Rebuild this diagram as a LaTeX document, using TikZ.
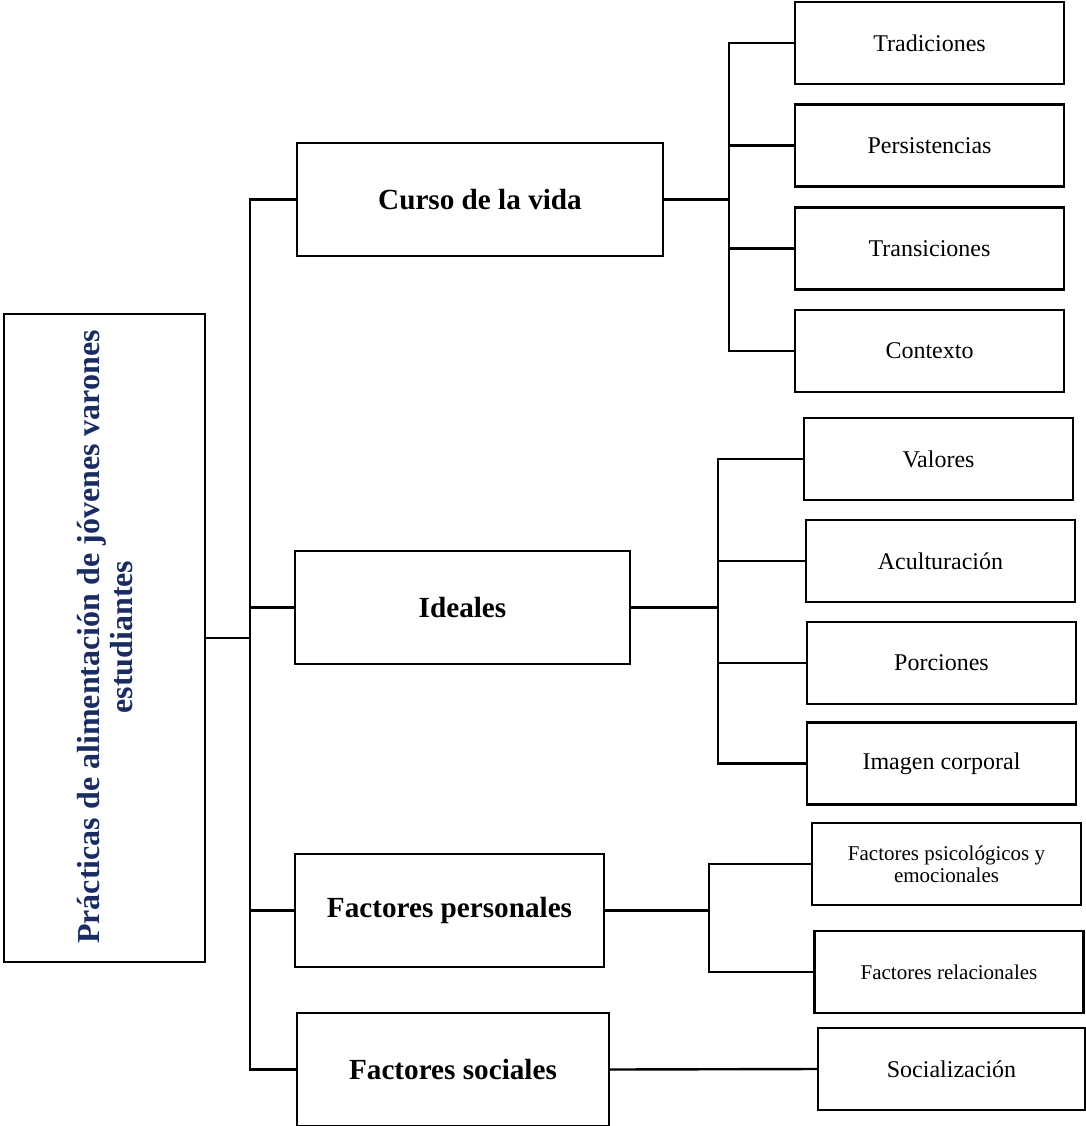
\documentclass[tikz,border=0pt]{standalone}
\usepackage{fontspec}
\setmainfont{Liberation Serif}
\definecolor{navy}{HTML}{1A2C62}
\begin{document}
\begin{tikzpicture}[x=0.5pt,y=-0.5pt,
  bx/.style={draw=black,line width=1.3pt,inner sep=0pt,align=center},
  leaf/.style={bx,minimum width=134.5pt,minimum height=41pt,font=\fontsize{12}{14}\selectfont},
  sleaf/.style={bx,minimum width=134.5pt,minimum height=41pt,font=\fontsize{10.5}{11}\selectfont},
  mid/.style={bx,minimum height=56.5pt,font=\fontsize{14.6}{16}\selectfont\bfseries},
  conn/.style={draw=black,line width=1.2pt,line cap=rect}]
\useasboundingbox (0,0) rectangle (1086,1126);
% title
\node[bx,minimum width=100.5pt,minimum height=324pt] (title) at (104.5,638) {};
\node[rotate=90,align=center,text=navy,inner sep=0pt,
  font=\fontsize{16}{16.5}\selectfont\bfseries] (titletext) at (105.5,637)
  {Prácticas de alimentación de jóvenes varones\\estudiantes};
% middle boxes
\node[mid,minimum width=183pt] (curso) at (480,199.5) {Curso de la vida};
\node[mid,minimum width=167.5pt] (ideales) at (462.5,607.5) {Ideales};
\node[mid,minimum width=154.5pt] (fpers) at (449.5,910.5) {Factores personales};
\node[mid,minimum width=156pt] (fsoc) at (453,1069.5) {Factores sociales};
% leaves group 1
\node[leaf] (trad) at (929.5,43) {Tradiciones};
\node[leaf] (pers) at (929.5,145.5) {Persistencias};
\node[leaf] (trans) at (929.5,248.5) {Transiciones};
\node[leaf] (cont) at (929.5,351) {Contexto};
% leaves group 2
\node[leaf] (val) at (938.5,459) {Valores};
\node[leaf] (acul) at (940.5,561) {Aculturación};
\node[leaf] (porc) at (941.5,663) {Porciones};
\node[leaf] (imag) at (941.5,763.5) {Imagen corporal};
% leaves group 3
\node[sleaf] (psico) at (946.5,864) {Factores psicológicos y\\emocionales};
\node[sleaf] (rel) at (949,972) {Factores relacionales};
% leaf group 4
\node[leaf,minimum width=133.5pt] (soc) at (951.5,1069) {Socialización};
% trunk
\coordinate (tr) at (250,0);
\draw[conn] (title.east) -- (title.east -| tr);
\draw[conn] (curso.west -| tr) -- (fsoc.west -| tr);
\foreach \n in {curso,ideales,fpers,fsoc} \draw[conn] (\n.west -| tr) -- (\n.west);
% group 1
\coordinate (g1) at (729,0);
\draw[conn] (curso.east) -- (curso.east -| g1);
\draw[conn] (trad.west -| g1) -- (cont.west -| g1);
\foreach \n in {trad,pers,trans,cont} \draw[conn] (\n.west -| g1) -- (\n.west);
% group 2
\coordinate (g2) at (718,0);
\draw[conn] (ideales.east) -- (ideales.east -| g2);
\draw[conn] (val.west -| g2) -- (imag.west -| g2);
\foreach \n in {val,acul,porc,imag} \draw[conn] (\n.west -| g2) -- (\n.west);
% group 3
\coordinate (g3) at (709,0);
\draw[conn] (fpers.east) -- (fpers.east -| g3);
\draw[conn] (psico.west -| g3) -- (rel.west -| g3);
\foreach \n in {psico,rel} \draw[conn] (\n.west -| g3) -- (\n.west);
% group 4
\draw[conn] (fsoc.east) -- (soc.west);
\end{tikzpicture}
\end{document}
